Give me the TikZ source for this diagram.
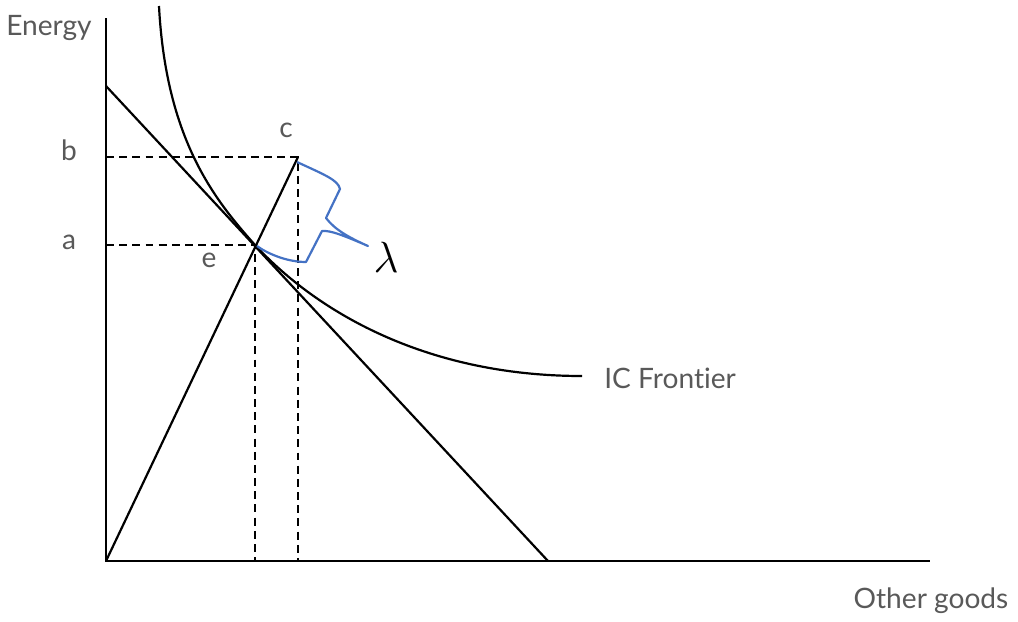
\documentclass[tikz,border=0pt]{standalone}
\usepackage{fontspec}
\setmainfont{Lato}[Ligatures={NoCommon}]
\usepackage{xcolor}
\usetikzlibrary{positioning}
\definecolor{labelgray}{RGB}{89,89,89}
\definecolor{bracketblue}{RGB}{68,114,196}

\begin{document}
\begin{tikzpicture}[
      x=0.02cm, y=-0.02cm,
      axis/.style={line width=1.5pt},
      curve/.style={line width=1.25pt},
      guide/.style={line width=1.25pt, dash pattern=on 4.5pt off 3pt},
      lbl/.style={text=labelgray, font=\fontsize{16}{19}\selectfont, inner sep=0pt}
    ]
    \useasboundingbox (0,0) rectangle (1018,622);

    % key points
    \coordinate (o) at (106,561);
    \coordinate (ytop) at (106,18);
    \coordinate (xend) at (930,561);
    \coordinate (bstart) at (106,86);
    \coordinate (bend) at (548,561);
    \coordinate (c) at (298,157);
    \coordinate (e) at (255,245);
    \coordinate (yb) at (106,157);
    \coordinate (ya) at (106,245);
    \coordinate (xc) at (298,561);
    \coordinate (xe) at (255,561);

    % axes
    \draw[axis] (ytop) -- (o) -- (xend);

    % budget line and ray
    \draw[curve] (bstart) -- (bend);
    \draw[curve] (o) -- (c);

    % indifference curve
    \draw[curve] (159,6) .. controls (166,140) and (215,200) .. (e)
      .. controls (320,315) and (430,376) .. (582,376) coordinate (icend);

    % dashed guides
    \draw[guide] (yb) -- (c) -- (xc);
    \draw[guide] (ya) -- (e) -- (xe);

    % bracket
    \draw[bracketblue, line width=1.25pt, line join=round]
      (297,162) .. controls (325,175) and (338,180) .. (340,189)
      -- (326,218) .. controls (335,230) and (350,238) .. (368,246) coordinate (tip)
      .. controls (345,236) and (330,230) .. (322,231)
      -- (306,262) .. controls (285,262) and (265,252) .. (257,246);

    % labels
    \node[lbl] (energy) at (49,28) {Energy};
    \node[lbl] (blbl) at (69,150) {b};
    \node[lbl] (albl) at (69,242) {a};
    \node[lbl] (clbl) at (286,130) {c};
    \node[lbl] (elbl) at (209,260) {e};
    \node[lbl, anchor=west] (iclbl) at (604,378) {IC Frontier};
    \node[lbl] (other) at (931,601) {Other goods};
    \node[inner sep=0pt, font=\fontsize{27}{31}\selectfont] (lam) at (386,257) {$\lambda$};
  \end{tikzpicture}
\end{document}
